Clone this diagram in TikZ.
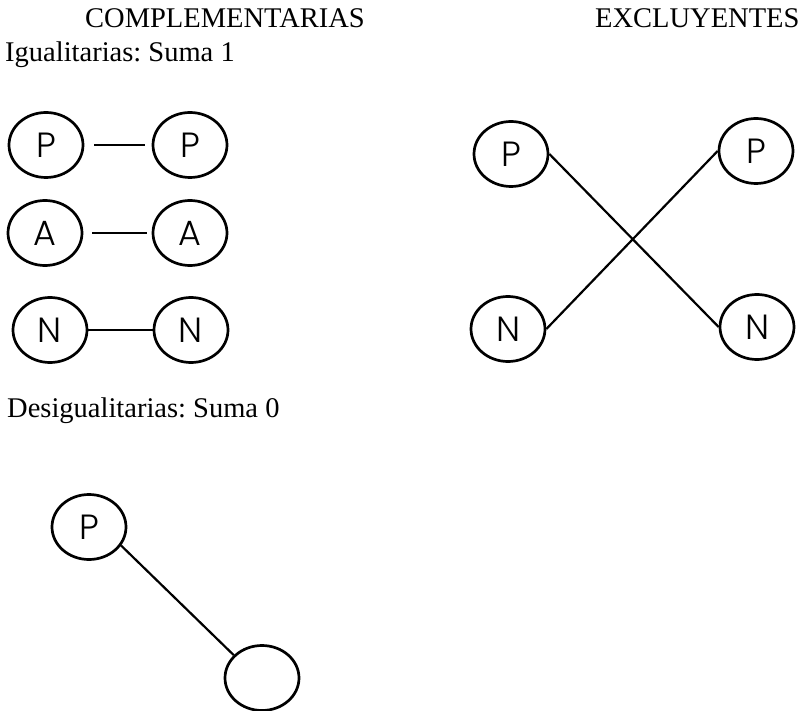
\documentclass[tikz,border=0pt]{standalone}
\usepackage{fontspec}
\setmainfont{Liberation Serif}
\newfontfamily\lbl{Poppins Light}
\usetikzlibrary{shapes.geometric}
\frenchspacing
\begin{document}
\begin{tikzpicture}[x=1pt,y=-1pt,
  oval/.style={draw,ellipse,line width=2.7pt,minimum width=74pt,minimum height=65pt,
    inner sep=0pt,font=\lbl\fontsize{35}{35}\selectfont},
  link/.style={line width=2.2pt},
  heading/.style={anchor=base west,inner sep=0pt,font=\fontsize{28.5}{30}\selectfont}]
\useasboundingbox (0,0) rectangle (806,711);

% titles
\node[heading] (tcomp) at (85,28) {COMPLEMENTARIAS};
\node[heading] (texcl) at (595,28) {EXCLUYENTES};
\node[heading] (tigual) at (5,62) {Igualitarias: Suma 1};
\node[heading] (tdesig) at (7,417) {Desigualitarias: Suma 0};

% complementarias, igualitarias
\node[oval] (p1) at (46,145) {P};
\node[oval] (p2) at (190,145) {P};
\node[oval] (a1) at (45,233) {A};
\node[oval] (a2) at (190,233) {A};
\node[oval] (n1) at (50,330) {N};
\node[oval] (n2) at (191,330) {N};
\draw[link,shorten <=10pt,shorten >=7pt] (p1) -- (p2);
\draw[link,shorten <=9pt,shorten >=5pt] (a1) -- (a2);
\draw[link] (n1) -- (n2);

% excluyentes
\node[oval] (xp1) at (511,154) {P};
\node[oval] (xp2) at (756,151) {P};
\node[oval] (xn1) at (508,329) {N};
\node[oval] (xn2) at (757,327) {N};
\draw[link] (xp1.east) -- (xn2.west);
\draw[link] (xn1.east) -- (xp2.west);

% desigualitarias
\node[oval] (dp) at (89,527) {P};
\node[oval] (de) at (262,678) {};
\draw[link] (dp.-30) -- (de.141);
\end{tikzpicture}
\end{document}
